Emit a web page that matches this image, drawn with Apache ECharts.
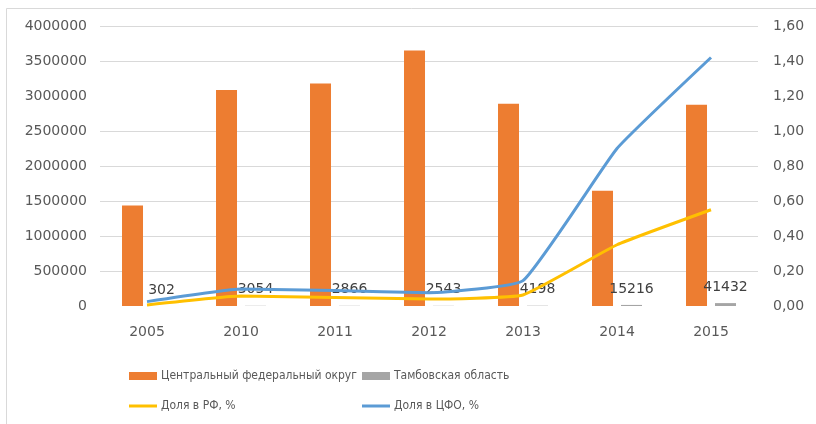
<!DOCTYPE html>
<html>
<head>
<meta charset="utf-8">
<title>ЦФО и Тамбовская область</title>
<script type="text/javascript" src="https://cdn.jsdelivr.net/npm/echarts@6/dist/echarts.min.js"></script>
<style>
  html, body { margin: 0; padding: 0; background: #fff; }
</style>
</head>
<body>
<div id="main" style="width:816px;height:424px;"></div>
<script type="text/javascript">
// годы
var years = ['2005', '2010', '2011', '2012', '2013', '2014', '2015'];
// Центральный федеральный округ
var cfoValues = [1435000, 3085000, 3180000, 3650000, 2890000, 1645000, 2875000];
// Тамбовская область
var tambovValues = [302, 3054, 2866, 2543, 4198, 15216, 41432];
// доли, %
var shareRF = [0.006, 0.057, 0.048, 0.040, 0.063, 0.35, 0.55];
var shareCFO = [0.025, 0.097, 0.088, 0.076, 0.145, 0.90, 1.42];

var seriesNames = ['Центральный федеральный округ', 'Тамбовская область', 'Доля в РФ, %', 'Доля в ЦФО, %'];

var axisFont = 'DejaVu Sans';
var legendFont = '"Liberation Sans Narrow", "DejaVu Sans Condensed", sans-serif';

var myChart = echarts.init(document.getElementById('main'), null, {renderer: 'canvas'});

function legendAt(name, x, y, w, h, icon) {
    return {
        data: [{name: name, icon: icon}],
        left: x,
        top: y,
        itemWidth: w,
        itemHeight: h,
        itemGap: 0,
        padding: 0,
        selectedMode: false,
        textStyle: {color: '#595959', fontSize: 12, fontFamily: legendFont, padding: [0, 0, 0, -1]}
    };
}

myChart.setOption({
    animation: false,
    backgroundColor: '#fff',
    graphic: [{
        type: 'polyline',
        shape: {points: [[6.5, 430], [6.5, 8.5], [830, 8.5]]},
        style: {stroke: '#d9d9d9', fill: null, lineWidth: 1},
        silent: true
    }],
    grid: {left: 100, right: 58, top: 26, bottom: 118},
    legend: [
        legendAt(seriesNames[0], 129, 370, 28, 8, 'rect'),
        legendAt(seriesNames[1], 362, 370, 28, 8, 'rect'),
        legendAt(seriesNames[2], 129, 400, 28, 3, 'rect'),
        legendAt(seriesNames[3], 362, 400, 28, 3, 'rect')
    ],
    xAxis: {
        type: 'category',
        data: years,
        axisLine: {show: false},
        axisTick: {show: false},
        axisLabel: {color: '#595959', fontSize: 14, fontFamily: axisFont, margin: 19}
    },
    yAxis: [{
        type: 'value',
        min: 0,
        max: 4000000,
        interval: 500000,
        axisLine: {show: false},
        axisTick: {show: false},
        axisLabel: {
            color: '#595959', fontSize: 14, fontFamily: axisFont, margin: 13,
            formatter: function (v) { return String(v); }
        },
        splitLine: {
            lineStyle: {
                color: ['rgba(0,0,0,0)', '#d9d9d9', '#d9d9d9', '#d9d9d9', '#d9d9d9', '#d9d9d9', 'rgba(0,0,0,0)', '#d9d9d9', '#d9d9d9'],
                width: 1
            }
        }
    }, {
        type: 'value',
        min: 0,
        max: 1.6,
        interval: 0.2,
        axisLine: {show: false},
        axisTick: {show: false},
        splitLine: {show: false},
        axisLabel: {
            color: '#595959', fontSize: 14, fontFamily: axisFont, margin: 15,
            formatter: function (v) { return v.toFixed(2).replace('.', ','); }
        }
    }],
    series: [{
        name: seriesNames[0],
        type: 'bar',
        data: cfoValues,
        barWidth: 21,
        barGap: '38%',
        itemStyle: {color: '#ed7d31'}
    }, {
        name: seriesNames[1],
        type: 'bar',
        data: tambovValues,
        barWidth: 21,
        itemStyle: {color: '#a5a5a5'},
        label: {
            show: true,
            position: 'top',
            distance: 9,
            color: '#404040',
            fontSize: 14,
            fontFamily: axisFont
        }
    }, {
        name: seriesNames[2],
        type: 'line',
        yAxisIndex: 1,
        data: shareRF,
        smooth: 0.12,
        symbol: 'none',
        lineStyle: {color: '#ffc000', width: 3},
        itemStyle: {color: '#ffc000'}
    }, {
        name: seriesNames[3],
        type: 'line',
        yAxisIndex: 1,
        data: shareCFO,
        smooth: 0.12,
        symbol: 'none',
        lineStyle: {color: '#5b9bd5', width: 3},
        itemStyle: {color: '#5b9bd5'}
    }]
});

window.onresize = function () {
    myChart.resize();
};
</script>
</body>
</html>
